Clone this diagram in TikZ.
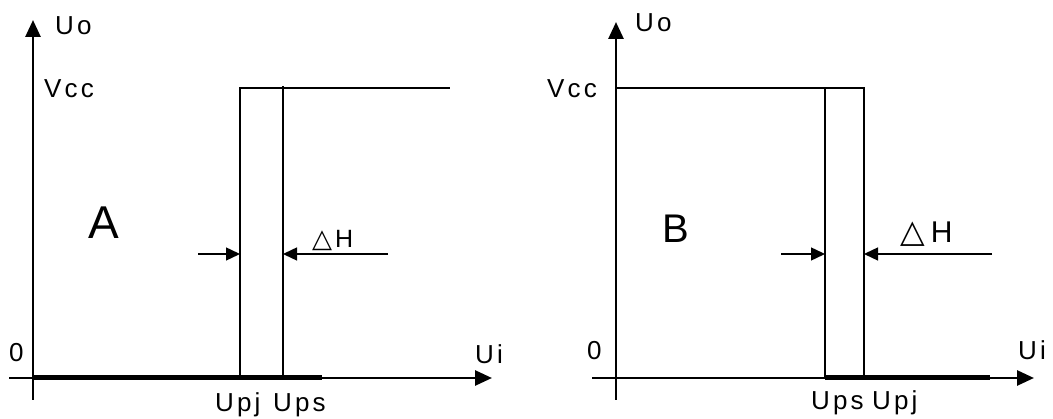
\documentclass[tikz,border=0pt]{standalone}
\usepackage{fontspec}
\setmainfont{Liberation Sans}
\newfontfamily\lbl{Liberation Sans}[LetterSpace=12]
\newfontfamily\symf{DejaVu Sans}
\usetikzlibrary{arrows.meta}
\tikzset{
  axis/.style={line width=2.8pt,-{Triangle[length=17pt,width=15pt]}},
  low/.style={line width=5pt},
  trace/.style={line width=1.4pt},
  dim/.style={line width=1.4pt,-{Triangle[length=14pt,width=13pt]}},
  lab/.style={inner sep=0pt,anchor=base west,font=\lbl\fontsize{26}{26}\selectfont},
  big/.style={inner sep=0pt,anchor=base west},
}
\begin{document}
\begin{tikzpicture}[x=1pt,y=-1pt]
\useasboundingbox (0,0) rectangle (1053,419);

% ---------- characteristic A ----------
\coordinate (ay0) at (33,400);  \coordinate (ay1) at (33,20);
\coordinate (ax0) at (9,378);   \coordinate (ax1) at (492,378);
\coordinate (ao)  at (33,378);  \coordinate (alow) at (322,378);
\coordinate (apjb) at (240,378); \coordinate (apjt) at (240,88);
\coordinate (apsb) at (283,378); \coordinate (apst) at (283,86);
\coordinate (ahigh) at (450,88);
\coordinate (adl) at (198,254);  \coordinate (adr) at (388,254);
\coordinate (apjm) at (240,254); \coordinate (apsm) at (283,254);

\draw[axis] (ay0) -- (ay1);
\draw[axis] (ax0) -- (ax1);
\draw[low] (ao) -- (alow);
\draw[trace] (apjb) -- (apjt) -- (ahigh);
\draw[trace] (apsb) -- (apst);
\draw[dim] (adl) -- (apjm);
\draw[dim] (adr) -- (apsm);

\node[lab] (aUo)  at (55,35)   {Uo};
\node[lab] (aVcc) at (44,98)   {Vcc};
\node[lab] (aZero) at (9,362)  {0};
\node[lab] (aUi)  at (475,364) {Ui};
\node[lab] (aUpj) at (215,412) {Upj};
\node[lab] (aUps) at (273,412) {Ups};
\node[big,font=\fontsize{46}{46}\selectfont] (aA) at (88,239) {A};
\node[big,font=\fontsize{25}{25}\selectfont] (adH) at (312,248)
  {{\symf\fontsize{26}{26}\selectfont △}\hspace{3pt}H};

% ---------- characteristic B ----------
\coordinate (by0) at (616,400);  \coordinate (by1) at (616,22);
\coordinate (bx0) at (592,378);  \coordinate (bx1) at (1034,378);
\coordinate (bpsb) at (825,378); \coordinate (bpst) at (825,88);
\coordinate (bpjb) at (864,378); \coordinate (bpjt) at (864,88);
\coordinate (bhigh) at (616,88);
\coordinate (blow) at (990,378);
\coordinate (bdl) at (781,254);  \coordinate (bdr) at (992,254);
\coordinate (bpsm) at (825,254); \coordinate (bpjm) at (864,254);

\draw[axis] (by0) -- (by1);
\draw[axis] (bx0) -- (bx1);
\draw[low] (bpsb) -- (blow);
\draw[trace] (bhigh) -- (bpjt) -- (bpjb);
\draw[trace] (bpsb) -- (bpst);
\draw[dim] (bdl) -- (bpsm);
\draw[dim] (bdr) -- (bpjm);

\node[lab] (bUo)  at (635,32)   {Uo};
\node[lab] (bVcc) at (547,98)   {Vcc};
\node[lab] (bZero) at (587,360) {0};
\node[lab] (bUi)  at (1018,360) {Ui};
\node[lab] (bUps) at (811,410)  {Ups};
\node[lab] (bUpj) at (872,410)  {Upj};
\node[big,font=\fontsize{40}{40}\selectfont] (bB) at (662,243) {B};
\node[big,font=\fontsize{30}{30}\selectfont] (bdH) at (900,243)
  {{\symf\fontsize{32}{32}\selectfont △}\hspace{6pt}H};
\end{tikzpicture}
\end{document}
